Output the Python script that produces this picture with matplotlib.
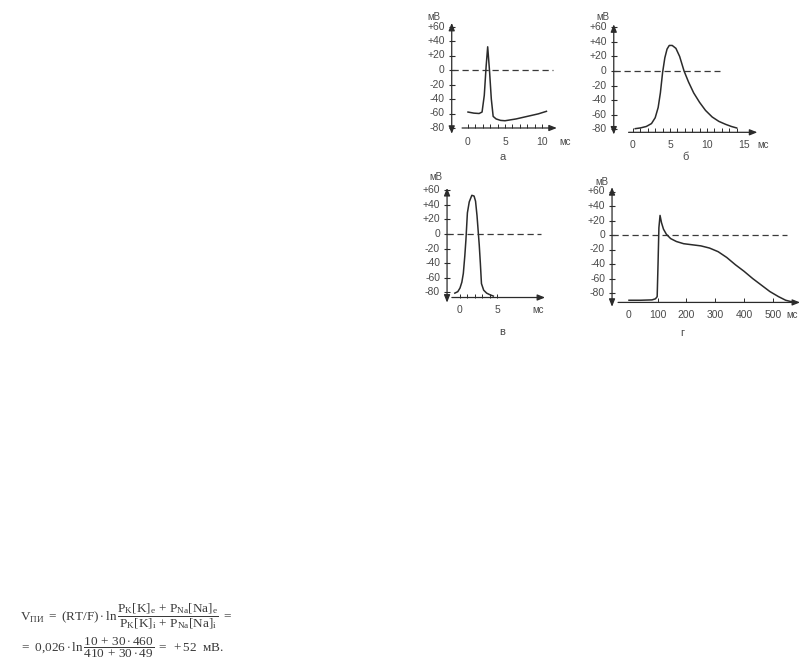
import matplotlib
matplotlib.use('Agg')
import matplotlib.pyplot as plt
from matplotlib.lines import TICKUP

plt.rcParams['font.family'] = ['Liberation Sans', 'DejaVu Sans']
plt.rcParams['mathtext.fontset'] = 'custom'
plt.rcParams['mathtext.rm'] = 'Liberation Serif'
plt.rcParams['mathtext.it'] = 'Liberation Serif:italic'
plt.rcParams['mathtext.bf'] = 'Liberation Serif:bold'
plt.rcParams['mathtext.default'] = 'rm'

# --- data (time, membrane potential in mV) ---
t_a = [0, 0.8, 1.5, 1.9, 2.2, 2.45, 2.66, 2.9, 3.15, 3.4, 3.8, 4.4, 5.0, 6.5, 8.0, 9.5, 10.6]
v_a = [-58, -59.5, -60, -58, -35, 5, 32, 0, -40, -64, -67.5, -69.5, -70, -67.5, -64, -60.5, -57]

t_b = [0.3, 1.0, 1.8, 2.5, 3.0, 3.4, 3.7, 4.0, 4.3, 4.6, 4.9, 5.3, 5.8, 6.3, 6.9,
       7.5, 8.2, 9.0, 9.8, 10.7, 11.6, 12.5, 13.3, 14.0]
v_b = [-79, -78, -76, -72, -64, -50, -30, -2, 18, 30, 35, 35, 31, 20, 0,
       -15, -30, -43, -54, -63, -69, -73, -76, -78]

t_c = [-0.7, -0.3, 0.0, 0.25, 0.45, 0.65, 0.8, 1.0, 1.25, 1.6, 1.9, 2.1, 2.3,
       2.45, 2.6, 2.75, 2.9, 3.2, 3.6, 4.0, 4.5]
v_c = [-81, -79, -74, -66, -54, -30, -8, 29, 44, 53, 52, 45, 25,
       5, -15, -40, -68, -77, -81, -83, -85]

t_d = [0, 40, 80, 92, 98, 101, 104, 108, 113, 120, 130, 145, 165, 190, 220, 250,
       280, 310, 340, 370, 400, 430, 460, 490, 520, 545, 565]
v_d = [-90, -90, -89.5, -88, -85, -40, 10, 27, 17, 8, 1, -5, -9, -12, -13.5, -15,
       -18, -23, -31, -41, -50, -60, -69, -78, -85, -90, -92]

y_ticks = [60, 40, 20, 0, -20, -40, -60, -80]
y_labels = ['+60', '+40', '+20', '0', '-20', '-40', '-60', '-80']

W, H = 808, 670
LINE = '#2b2b2b'
TEXT = '#4a4a4a'

fig = plt.figure(figsize=(W / 100, H / 100), dpi=100)
fig.patch.set_facecolor('white')


def draw_panel(t, v, lay):
    """One oscillogram; lay holds the pixel layout of the panel."""
    px0, sx, py0, sy = lay['px0'], lay['sx'], lay['py0'], lay['sy']
    ax = fig.add_axes([0, 0, 1, 1])
    ax.set_xlim(-px0 / sx, (W - px0) / sx)
    ax.set_ylim((py0 - H) / sy, py0 / sy)
    ax.axis('off')
    ax.patch.set_facecolor('none')

    yx = lay['yaxis_x']
    xy = lay['xaxis_y']
    # axes with arrows
    ax.annotate('', xy=(yx, lay['ytop']), xytext=(yx, lay['ybot']),
                arrowprops=dict(arrowstyle='<|-|>,head_length=0.45,head_width=0.18',
                                lw=0.9, color=LINE, shrinkA=0, shrinkB=0,
                                mutation_scale=10))
    ax.annotate('', xy=(lay['xend'], xy), xytext=(lay['xstart'], xy),
                arrowprops=dict(arrowstyle='-|>,head_length=0.45,head_width=0.18',
                                lw=0.9, color=LINE, shrinkA=0, shrinkB=0,
                                mutation_scale=10))
    # y ticks and labels
    ax.plot([yx] * len(y_ticks), y_ticks, ls='none', marker='_', ms=4,
            mew=0.8, color=LINE)
    for val, lbl in zip(y_ticks, y_labels):
        ax.annotate(lbl, (yx, val), xytext=(-5, 0), textcoords='offset points',
                    ha='right', va='center', fontsize=7.5, color=TEXT)
    # x ticks and labels
    ax.plot(lay['minor'], [xy] * len(lay['minor']), ls='none', marker=TICKUP,
            ms=3, mew=0.7, color=LINE)
    for val in lay['major']:
        ax.annotate(str(val), (val, xy), xytext=(0, -lay['lab_off']),
                    textcoords='offset points', ha='center', va='center',
                    fontsize=7.5, color=TEXT)
    ax.annotate('мс', (lay['ms_x'], xy), xytext=(0, -lay['lab_off']),
                textcoords='offset points', ha='center', va='center',
                fontsize=7, color=TEXT)
    ax.annotate('мВ', (yx, lay['ytop']), xytext=lay['mv_off'],
                textcoords='offset points', ha='center', va='center',
                fontsize=7, color=TEXT)
    # zero line
    ax.plot([yx, lay['dash_end']], [0, 0], color='#3a3a3a', lw=0.9,
            ls=(0, (5, 3)))
    # curve
    ax.plot(t, v, color=LINE, lw=1.1, solid_joinstyle='round')
    fig.text(lay['letter'][0] / W, 1 - lay['letter'][1] / H, lay['name'],
             ha='center', va='center', fontsize=8, color=TEXT)


lay_a = dict(px0=468, sx=7.4, py0=70, sy=0.725, yaxis_x=-2.2, ytop=65, ybot=-88,
             xaxis_y=-80, xstart=-0.8, xend=12, dash_end=11.5,
             major=[0, 5, 10], minor=list(range(0, 11)), lab_off=10,
             ms_x=13.1, mv_off=(-13, 4), letter=(503, 157), name='а')
lay_b = dict(px0=633, sx=7.4, py0=71, sy=0.73, yaxis_x=-2.6, ytop=64, ybot=-87,
             xaxis_y=-84, xstart=-0.6, xend=16.8, dash_end=11.8,
             major=[0, 5, 10, 15], minor=list(range(0, 15)), lab_off=9,
             ms_x=17.6, mv_off=(-8, 5), letter=(686, 157), name='б')
lay_c = dict(px0=460, sx=7.4, py0=234, sy=0.73, yaxis_x=-1.75, ytop=63, ybot=-94,
             xaxis_y=-87, xstart=-1.1, xend=11.5, dash_end=11.0,
             major=[0, 5], minor=list(range(0, 6)), lab_off=9,
             ms_x=10.5, mv_off=(-8, 8), letter=(502, 332), name='в')
lay_d = dict(px0=629, sx=0.2875, py0=235, sy=0.725, yaxis_x=-59, ytop=66, ybot=-99,
             xaxis_y=-93, xstart=-38, xend=595, dash_end=550,
             major=[0, 100, 200, 300, 400, 500], minor=[100, 200, 300, 400, 500],
             lab_off=9, ms_x=567, mv_off=(-7, 4), letter=(682, 333), name='г')

draw_panel(t_a, v_a, lay_a)
draw_panel(t_b, v_b, lay_b)
draw_panel(t_c, v_c, lay_c)
draw_panel(t_d, v_d, lay_d)

# formula below the figure
line1 = (r'$\mathrm{V_{ПИ}}\ =\ (\mathrm{RT/F})\cdot\mathrm{ln}\,'
         r'\dfrac{\mathrm{P_K[K]_e}\,+\,\mathrm{P_{Na}[Na]_e}}'
         r'{\mathrm{P_K[K]_i}\,+\,\mathrm{P_{Na}[Na]_i}}\ =$')
line2 = (r'$=\ 0{,}026\cdot\mathrm{ln}\,\dfrac{10\,+\,30\cdot 460}{410\,+\,30\cdot 49}'
         r'\ =\ +52\ \ \mathrm{мВ.}$')
fig.text(20 / W, 1 - 616 / H, line1, ha='left', va='center', fontsize=9.5,
         color='#3a3a3a')
fig.text(20 / W, 1 - 648 / H, line2, ha='left', va='center', fontsize=9.5,
         color='#3a3a3a')

fig.savefig('out.png', dpi=100, facecolor='white')
